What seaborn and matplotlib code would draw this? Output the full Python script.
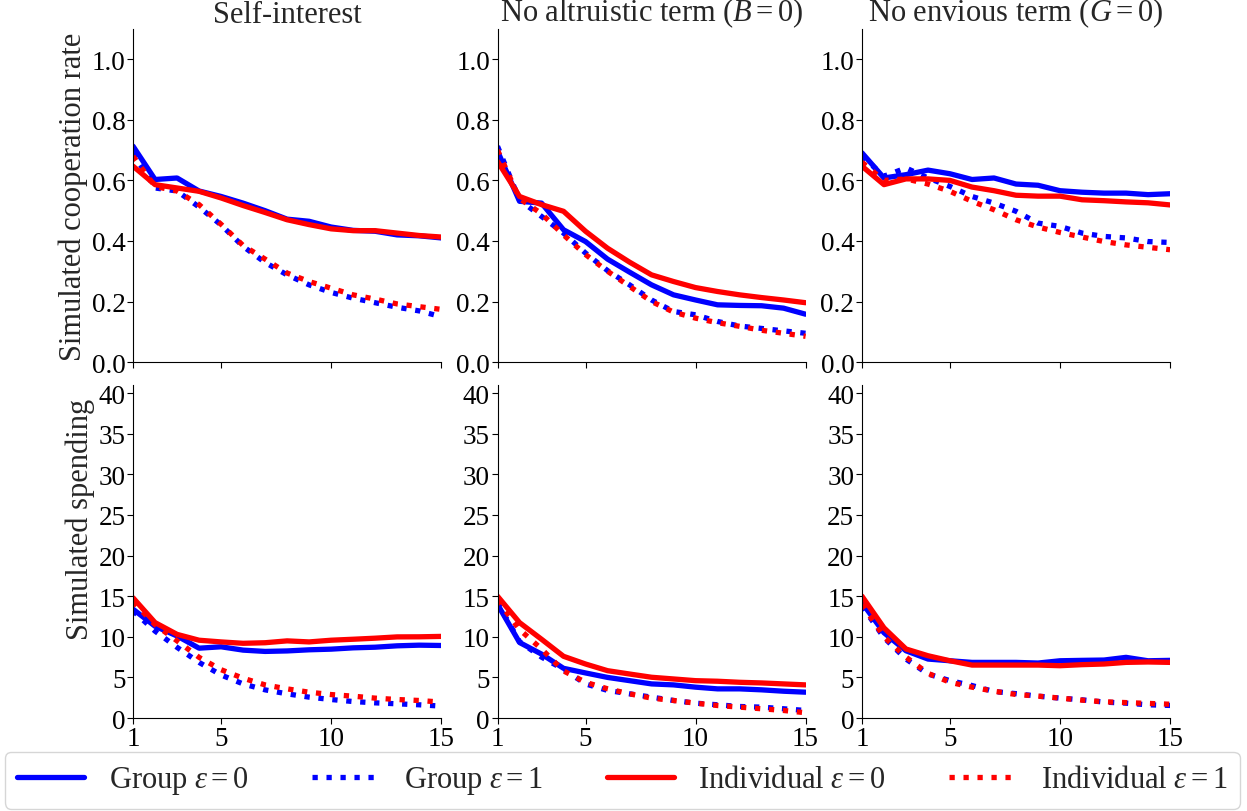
import numpy as np
import pandas as pd
import matplotlib
matplotlib.use("Agg")
import matplotlib.pyplot as plt
import seaborn as sns

# Rounds of the game
rounds = list(range(1, 16))

titles = ["Self-interest", "No altruistic term ($B=0$)", "No envious term ($G=0$)"]
series_names = ["Group $\\varepsilon=0$", "Group $\\varepsilon=1$",
                "Individual $\\varepsilon=0$", "Individual $\\varepsilon=1$"]

# Simulated cooperation rate, per model variant
coop_self_group_e0 = [0.713, 0.603, 0.608, 0.565, 0.547, 0.525, 0.500, 0.472, 0.465, 0.446, 0.435, 0.432, 0.420, 0.417, 0.410]
coop_self_group_e1 = [0.690, 0.575, 0.565, 0.512, 0.453, 0.382, 0.329, 0.288, 0.255, 0.230, 0.211, 0.196, 0.181, 0.169, 0.150]
coop_self_indiv_e0 = [0.647, 0.586, 0.575, 0.564, 0.542, 0.517, 0.494, 0.470, 0.454, 0.440, 0.434, 0.434, 0.426, 0.418, 0.413]
coop_self_indiv_e1 = [0.680, 0.580, 0.565, 0.520, 0.455, 0.385, 0.340, 0.294, 0.266, 0.244, 0.222, 0.208, 0.192, 0.183, 0.174]

coop_noB_group_e0 = [0.697, 0.531, 0.525, 0.437, 0.398, 0.340, 0.297, 0.255, 0.222, 0.205, 0.189, 0.187, 0.186, 0.178, 0.158]
coop_noB_group_e1 = [0.713, 0.535, 0.481, 0.426, 0.360, 0.302, 0.255, 0.205, 0.167, 0.156, 0.134, 0.119, 0.111, 0.103, 0.095]
coop_noB_indiv_e0 = [0.663, 0.547, 0.520, 0.498, 0.432, 0.376, 0.330, 0.288, 0.266, 0.246, 0.233, 0.222, 0.213, 0.205, 0.196]
coop_noB_indiv_e1 = [0.700, 0.540, 0.490, 0.420, 0.355, 0.300, 0.250, 0.200, 0.165, 0.145, 0.130, 0.118, 0.105, 0.095, 0.085]

coop_noG_group_e0 = [0.691, 0.608, 0.619, 0.634, 0.622, 0.603, 0.608, 0.588, 0.584, 0.566, 0.561, 0.558, 0.558, 0.553, 0.556]
coop_noG_group_e1 = [0.680, 0.614, 0.641, 0.608, 0.580, 0.547, 0.525, 0.498, 0.459, 0.448, 0.426, 0.415, 0.410, 0.398, 0.395]
coop_noG_indiv_e0 = [0.647, 0.586, 0.605, 0.605, 0.600, 0.578, 0.566, 0.551, 0.548, 0.548, 0.536, 0.533, 0.529, 0.526, 0.519]
coop_noG_indiv_e1 = [0.660, 0.600, 0.605, 0.588, 0.564, 0.531, 0.503, 0.470, 0.446, 0.428, 0.413, 0.398, 0.387, 0.379, 0.371]

# Simulated spending, per model variant
spend_self_group_e0 = [13.4, 11.3, 10.1, 8.6, 8.77, 8.36, 8.2, 8.26, 8.4, 8.48, 8.64, 8.72, 8.89, 8.97, 8.93]
spend_self_group_e1 = [13.2, 10.7, 8.7, 6.85, 5.3, 4.2, 3.47, 2.98, 2.57, 2.28, 2.03, 1.87, 1.75, 1.63, 1.47]
spend_self_indiv_e0 = [14.8, 11.75, 10.3, 9.58, 9.37, 9.2, 9.27, 9.5, 9.37, 9.58, 9.7, 9.83, 9.99, 10.0, 10.05]
spend_self_indiv_e1 = [14.3, 11.5, 9.5, 7.47, 5.95, 4.9, 4.08, 3.59, 3.18, 2.89, 2.69, 2.45, 2.28, 2.16, 1.96]

spend_noB_group_e0 = [14.0, 9.3, 7.87, 6.12, 5.55, 5.0, 4.6, 4.2, 4.08, 3.8, 3.59, 3.59, 3.47, 3.3, 3.18]
spend_noB_group_e1 = [14.2, 9.4, 7.5, 6.0, 4.2, 3.4, 2.98, 2.57, 2.16, 1.83, 1.63, 1.42, 1.34, 1.14, 0.93]
spend_noB_indiv_e0 = [15.0, 11.75, 9.7, 7.6, 6.65, 5.83, 5.42, 5.02, 4.81, 4.6, 4.53, 4.4, 4.32, 4.2, 4.08]
spend_noB_indiv_e1 = [14.5, 10.9, 8.5, 5.8, 4.4, 3.6, 2.98, 2.45, 2.16, 1.83, 1.54, 1.34, 1.14, 0.93, 0.65]

spend_noG_group_e0 = [14.2, 10.5, 8.28, 7.26, 7.05, 6.85, 6.85, 6.85, 6.77, 7.05, 7.1, 7.14, 7.47, 7.05, 7.1]
spend_noG_group_e1 = [13.8, 9.9, 7.26, 5.42, 4.6, 4.0, 3.26, 3.0, 2.69, 2.45, 2.24, 1.96, 1.83, 1.63, 1.55]
spend_noG_indiv_e0 = [15.0, 11.1, 8.5, 7.67, 7.05, 6.52, 6.52, 6.52, 6.52, 6.44, 6.57, 6.65, 6.85, 6.9, 6.85]
spend_noG_indiv_e1 = [14.0, 10.0, 7.5, 5.5, 4.4, 3.8, 3.3, 2.9, 2.7, 2.45, 2.2, 2.0, 1.9, 1.8, 1.7]

coop_panels = [
    [coop_self_group_e0, coop_self_group_e1, coop_self_indiv_e0, coop_self_indiv_e1],
    [coop_noB_group_e0, coop_noB_group_e1, coop_noB_indiv_e0, coop_noB_indiv_e1],
    [coop_noG_group_e0, coop_noG_group_e1, coop_noG_indiv_e0, coop_noG_indiv_e1],
]
spend_panels = [
    [spend_self_group_e0, spend_self_group_e1, spend_self_indiv_e0, spend_self_indiv_e1],
    [spend_noB_group_e0, spend_noB_group_e1, spend_noB_indiv_e0, spend_noB_indiv_e1],
    [spend_noG_group_e0, spend_noG_group_e1, spend_noG_indiv_e0, spend_noG_indiv_e1],
]

colors = ["#0000ff", "#0000ff", "#ff0000", "#ff0000"]
styles = ["-", ":", "-", ":"]

sns.set_theme(style="ticks")
plt.rcParams["font.family"] = ["Liberation Serif", "DejaVu Serif"]
plt.rcParams["mathtext.fontset"] = "custom"
plt.rcParams["mathtext.rm"] = "Liberation Serif"
plt.rcParams["mathtext.it"] = "Liberation Serif:italic"
plt.rcParams["mathtext.bf"] = "Liberation Serif:bold"
plt.rcParams["axes.edgecolor"] = "black"
plt.rcParams["xtick.color"] = "black"
plt.rcParams["ytick.color"] = "black"
TICK_FS = 19.5
TITLE_FS = 22
LABEL_FS = 22
LEGEND_FS = 22

fig, axes = plt.subplots(2, 3, figsize=(12.47, 8.12), dpi=100)
fig.subplots_adjust(left=0.1067, right=0.9383, bottom=0.1145, top=0.963,
                    hspace=0.069, wspace=0.183)


def draw_panel(ax, series_list):
    for name, vals, col, ls in zip(series_names, series_list, colors, styles):
        df = pd.DataFrame({"round": rounds, "value": vals})
        sns.lineplot(data=df, x="round", y="value", ax=ax, color=col,
                     linestyle=ls, linewidth=3.8, label=name, legend=False)
    ax.set_xlim(1, 15)
    ax.set_xticks([1, 5, 10, 15])
    ax.set_xlabel("")
    ax.set_ylabel("")
    ax.tick_params(labelsize=TICK_FS, length=4, width=0.8, pad=1.5)
    sns.despine(ax=ax)
    for s in ("left", "bottom"):
        ax.spines[s].set_linewidth(0.8)


for j in range(3):
    ax = axes[0, j]
    draw_panel(ax, coop_panels[j])
    ax.set_ylim(0, 1.1)
    ax.set_yticks([0.0, 0.2, 0.4, 0.6, 0.8, 1.0])
    ax.set_yticklabels(["0.0", "0.2", "0.4", "0.6", "0.8", "1.0"])
    ax.set_xticklabels([])
    ax.set_title(titles[j], fontsize=TITLE_FS, pad=1)

    ax = axes[1, j]
    draw_panel(ax, spend_panels[j])
    ax.set_ylim(0, 41)
    ax.set_yticks([0, 5, 10, 15, 20, 25, 30, 35, 40])

axes[0, 0].set_ylabel("Simulated cooperation rate", fontsize=LABEL_FS)
axes[0, 0].yaxis.set_label_coords(-0.145, 0.5)
axes[1, 0].set_ylabel("Simulated spending", fontsize=LABEL_FS)
axes[1, 0].yaxis.set_label_coords(-0.122, 0.6)

handles, labels = axes[0, 0].get_legend_handles_labels()
fig.legend(handles, labels, loc="lower left", ncol=4, mode="expand",
           bbox_to_anchor=(0.004, 0.003, 0.99, 0.064), fontsize=LEGEND_FS,
           handlelength=2.2, frameon=True, borderaxespad=0.0)

fig.savefig("out.png", dpi=100)
